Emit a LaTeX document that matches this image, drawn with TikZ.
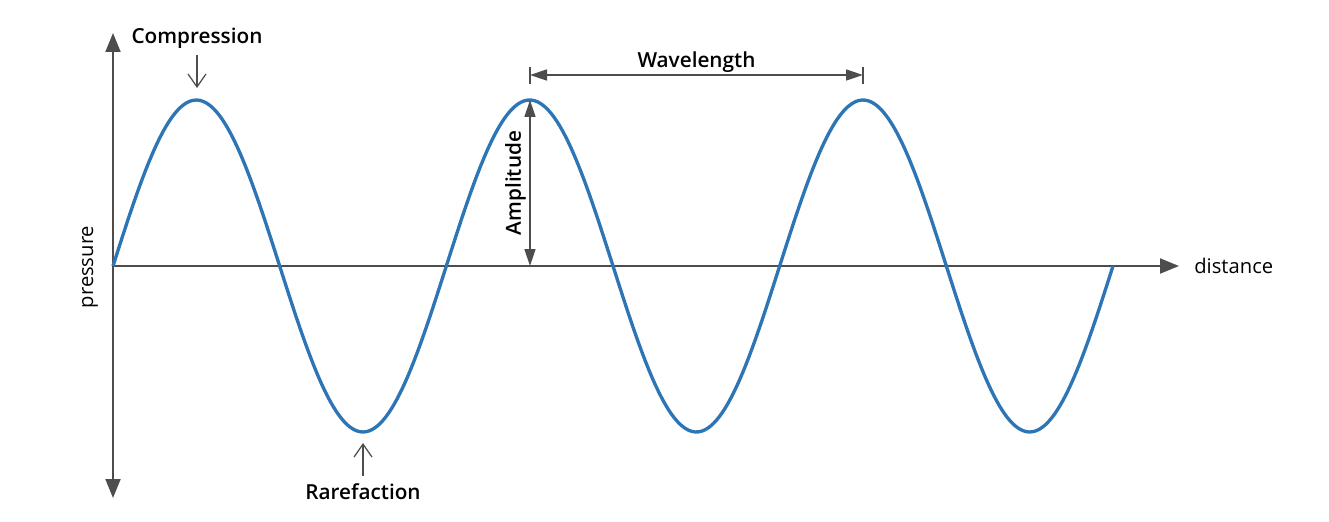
\documentclass[tikz,border=0pt]{standalone}
\usepackage{fontspec}
\setmainfont{Open Sans}
\newfontfamily\tagfont{Open Sans Semibold}
\usetikzlibrary{arrows.meta,positioning}
\definecolor{axisgray}{HTML}{4D4D4D}
\definecolor{waveblue}{HTML}{2E75B6}
\tikzset{font={\fontsize{11.5pt}{13}\selectfont}}

\begin{document}
\begin{tikzpicture}[x=0.02cm,y=-0.02cm,
    >={Triangle[length=0.38cm,width=0.3cm]},
    axis/.style={draw=axisgray,line width=1.1pt},
    wave/.style={draw=waveblue,line width=1.9pt},
    dim/.style={draw=axisgray,line width=0.85pt,{Triangle[length=0.34cm,width=0.22cm]}-{Triangle[length=0.34cm,width=0.22cm]}},
    marker/.style={draw=axisgray,line width=0.7pt,-{Straight Barb[length=0.26cm,width=0.36cm]}},
    tag/.style={font={\fontsize{11.8pt}{13}\selectfont\tagfont},inner sep=2pt}]

  \useasboundingbox (0,0) rectangle (1329,521);

  % axes
  \coordinate (O) at (113,266);
  \coordinate (ytop) at (113,33);
  \coordinate (ybot) at (113,498);
  \coordinate (xend) at (1179,266);
  \draw[axis,<->] (ybot) -- (ytop);
  \draw[axis,->] (O) -- (xend);
  \node[right=0.3cm of xend,inner sep=0pt] (dist) {distance};
  \node[rotate=90] (press) at (90,267) {pressure};

  % the wave
  \draw[wave] plot[domain=113:1113,samples=300,smooth] (\x,{266-166*sin((\x-113)*1.08)});

  \coordinate (peak1) at (197,100);
  \coordinate (trough1) at (363,432);
  \coordinate (peak2) at (530,100);
  \coordinate (peak3) at (863,100);
  \coordinate (base2) at (530,266);

  % compression / rarefaction
  \node[tag] (comp) at (197,38) {Compression};
  \draw[marker,shorten >=0.24cm,shorten <=0.06cm] (comp) -- (peak1);
  \node[tag] (rare) at (363,492) {Rarefaction};
  \draw[marker,shorten >=0.22cm,shorten <=0.08cm] (rare) -- (trough1);

  % wavelength
  \coordinate (wl1) at (530,75);
  \coordinate (wl2) at (863,75);
  \draw[dim] (wl1) -- (wl2)
    node[tag,midway,above=-0.03cm] (wave) {Wavelength};
  \draw[axis,line width=0.85pt] (wl1) ++(0,-8) -- ++(0,17);
  \draw[axis,line width=0.85pt] (wl2) ++(0,-8) -- ++(0,17);

  % amplitude
  \draw[dim] (peak2) -- (base2)
    node[tag,midway,rotate=90,anchor=south] (ampl) {Amplitude};
\end{tikzpicture}
\end{document}
